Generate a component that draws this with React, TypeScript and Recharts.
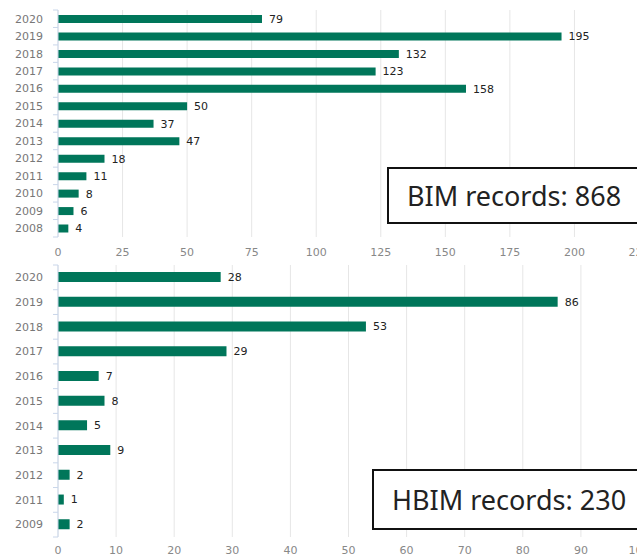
import React from 'react';
import { BarChart, Bar, XAxis, YAxis, CartesianGrid, LabelList } from 'recharts';

const bimYears = ['2020', '2019', '2018', '2017', '2016', '2015', '2014', '2013', '2012', '2011', '2010', '2009', '2008'];
const bimCounts = [79, 195, 132, 123, 158, 50, 37, 47, 18, 11, 8, 6, 4];
const bimTicks = [0, 25, 50, 75, 100, 125, 150, 175, 200, 225];
const bimTotalLabel = 'BIM records: 868';

const hbimYears = ['2020', '2019', '2018', '2017', '2016', '2015', '2014', '2013', '2012', '2011', '2009'];
const hbimCounts = [28, 86, 53, 29, 7, 8, 5, 9, 2, 1, 2];
const hbimTicks = [0, 10, 20, 30, 40, 50, 60, 70, 80, 90, 100];
const hbimTotalLabel = 'HBIM records: 230';

const bimData = bimYears.map((year, i) => ({ year, count: bimCounts[i] }));
const hbimData = hbimYears.map((year, i) => ({ year, count: hbimCounts[i] }));

const BAR_COLOR = '#00765a';
const AXIS_COLOR = '#c9d6ea';
const FONT = "'DejaVu Sans', sans-serif";

function YearTick(props: any) {
  const { x, y, payload, index, half, lastIndex } = props;
  const ax = x + 15;
  return (
    <g>
      <line x1={ax - 5} x2={ax} y1={y - half} y2={y - half} stroke={AXIS_COLOR} strokeWidth={1} />
      {index === lastIndex && (
        <line x1={ax - 5} x2={ax} y1={y + half} y2={y + half} stroke={AXIS_COLOR} strokeWidth={1} />
      )}
      <text x={x} y={y} dy="0.35em" textAnchor="end" fill="#777" fontSize={11} fontFamily={FONT}>
        {payload.value}
      </text>
    </g>
  );
}

const boxStyle = (left: number, top: number, height: number): React.CSSProperties => ({
  position: 'absolute',
  left,
  top,
  width: 300,
  height,
  boxSizing: 'border-box',
  border: '2px solid #111',
  background: '#fff',
  display: 'flex',
  alignItems: 'center',
  paddingLeft: 18,
  fontFamily: "'Noto Sans', sans-serif",
  fontSize: 27,
  color: '#222',
  whiteSpace: 'nowrap',
});

export default function App() {
  const topPlotH = 227;
  const botPlotH = 272;
  return (
    <div
      style={{
        position: 'absolute',
        left: 0,
        top: 0,
        width: 637,
        height: 557,
        overflow: 'hidden',
        background: '#fff',
        fontFamily: FONT,
      }}
    >
      <div style={{ position: 'absolute', left: 0, top: 0 }}>
        <BarChart
          width={649}
          height={263}
          data={bimData}
          layout="vertical"
          margin={{ top: 10, right: 10, left: 0, bottom: 0 }}
        >
          <CartesianGrid horizontal={false} stroke="#e6e6e6" />
          <XAxis
            type="number"
            domain={[0, 225]}
            ticks={bimTicks}
            interval={0}
            axisLine={false}
            tickLine={false}
            tickMargin={5}
            height={26}
            tick={{ fill: '#888', fontSize: 11, fontFamily: FONT }}
          />
          <YAxis
            type="category"
            dataKey="year"
            width={58}
            interval={0}
            axisLine={{ stroke: AXIS_COLOR }}
            tickLine={false}
            tickSize={0}
            tickMargin={15}
            tick={<YearTick half={topPlotH / bimYears.length / 2} lastIndex={bimYears.length - 1} />}
          />
          <Bar dataKey="count" fill={BAR_COLOR} barSize={8} isAnimationActive={false}>
            <LabelList dataKey="count" position="right" offset={7} fill="#222" fontSize={11} fontFamily={FONT} />
          </Bar>
        </BarChart>
      </div>
      <div style={{ position: 'absolute', left: 0, top: 262 }}>
        <BarChart
          width={649}
          height={295}
          data={hbimData}
          layout="vertical"
          margin={{ top: 3, right: 10, left: 0, bottom: 0 }}
        >
          <CartesianGrid horizontal={false} stroke="#e6e6e6" />
          <XAxis
            type="number"
            domain={[0, 100]}
            ticks={hbimTicks}
            interval={0}
            axisLine={false}
            tickLine={false}
            tickMargin={3}
            height={20}
            tick={{ fill: '#888', fontSize: 11, fontFamily: FONT }}
          />
          <YAxis
            type="category"
            dataKey="year"
            width={58}
            interval={0}
            axisLine={{ stroke: AXIS_COLOR }}
            tickLine={false}
            tickSize={0}
            tickMargin={15}
            tick={<YearTick half={botPlotH / hbimYears.length / 2} lastIndex={hbimYears.length - 1} />}
          />
          <Bar dataKey="count" fill={BAR_COLOR} barSize={10} isAnimationActive={false}>
            <LabelList dataKey="count" position="right" offset={7} fill="#222" fontSize={11} fontFamily={FONT} />
          </Bar>
        </BarChart>
      </div>
      <div style={boxStyle(387, 167, 57)}>{bimTotalLabel}</div>
      <div style={boxStyle(372, 469, 61)}>{hbimTotalLabel}</div>
    </div>
  );
}
